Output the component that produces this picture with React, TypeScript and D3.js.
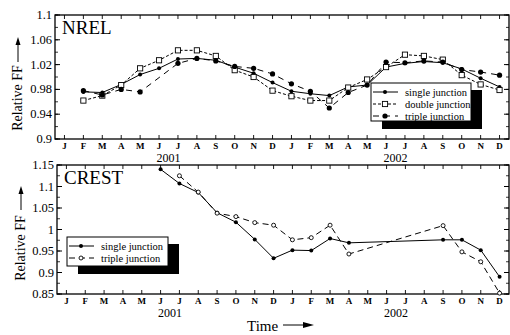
import * as d3 from 'd3';

const MONTHS = ['J', 'F', 'M', 'A', 'M', 'J', 'J', 'A', 'S', 'O', 'N', 'D', 'J', 'F', 'M', 'A', 'M', 'J', 'J', 'A', 'S', 'O', 'N', 'D'];
const YEARS = ['2001', '2002'];

// NREL, Jan 2001 .. Dec 2002 (null = no measurement)
const nrelSingle = [null, 0.976, 0.975, 0.988, 1.004, 1.014, 1.029, 1.030, 1.027, 1.016, 1.006, 0.991, 0.977, 0.973, 0.970, 0.984, 0.987, 1.016, 1.022, 1.025, 1.023, 1.013, 0.998, 0.984];
const nrelDouble = [null, 0.962, 0.970, 0.987, 1.014, 1.027, 1.043, 1.043, 1.034, 1.011, 1.000, 0.978, 0.969, 0.962, 0.962, 0.983, 0.996, 1.016, 1.036, 1.034, 1.028, 1.003, 0.988, 0.979];
const nrelTriple = [null, 0.978, 0.971, 0.980, 0.976, null, 1.022, 1.030, 1.026, 1.017, 1.014, 1.005, 0.989, 0.977, 0.950, 0.975, 0.987, 1.024, 1.023, 1.026, 1.024, 1.012, 1.008, 1.003];

// CREST
const crestSingle = [null, null, null, null, null, 1.140, 1.107, 1.086, 1.039, 1.017, 0.977, 0.933, 0.952, 0.951, 0.979, 0.969, null, null, null, null, 0.976, 0.976, 0.952, 0.890];
const crestTriple = [null, null, null, null, null, null, 1.125, 1.087, 1.038, 1.030, 1.016, 1.010, 0.976, 0.981, 1.010, 0.943, null, null, null, null, 1.009, 0.948, 0.925, 0.852];

const nrelTicks = [0.9, 0.94, 0.98, 1.02, 1.06, 1.1];
const crestTicks = [0.85, 0.9, 0.95, 1, 1.05, 1.1, 1.15];

const FONT = '"Liberation Serif", "Times New Roman", serif';

type Series = {
  name: string;
  values: (number | null)[];
  dash: string;
  marker: 'dot' | 'bigdot' | 'square' | 'circle';
};

function points(values: (number | null)[]) {
  return values.map((v, i) => [i, v] as [number, number | null]).filter(d => d[1] != null) as [number, number][];
}

function Marker({ kind, x, y }: { kind: string; x: number; y: number }) {
  if (kind === 'square') return <rect x={x - 2.6} y={y - 2.6} width={5.2} height={5.2} fill="#fff" stroke="#000" strokeWidth={0.9} />;
  if (kind === 'circle') return <circle cx={x} cy={y} r={2} fill="#fff" stroke="#000" strokeWidth={0.9} />;
  if (kind === 'bigdot') return <circle cx={x} cy={y} r={2.6} fill="#000" />;
  return <circle cx={x} cy={y} r={2} fill="#000" />;
}

function Panel(props: {
  label: string;
  left: number; right: number; top: number; bottom: number;
  domain: [number, number];
  ticks: number[];
  minorStep: number;
  series: Series[];
  legend: { x: number; y: number; w: number; h: number; rowH: number };
}) {
  const { left, right, top, bottom, domain, ticks, minorStep, series, legend } = props;
  const x = d3.scaleLinear().domain([-0.5, 23.5]).range([left, right]);
  const y = d3.scaleLinear().domain(domain).range([bottom, top]);
  const line = d3.line<[number, number]>().x(d => x(d[0])).y(d => y(d[1]));
  const minor = d3.range(domain[0], domain[1] + 1e-9, minorStep);

  return (
    <g>
      {/* frame */}
      <rect x={left} y={top} width={right - left} height={bottom - top} fill="none" stroke="#000" strokeWidth={1.3} />
      {/* y ticks */}
      {minor.map((v, i) => (
        <g key={'m' + i}>
          <line x1={left} x2={left + 3} y1={y(v)} y2={y(v)} stroke="#000" strokeWidth={0.8} />
          <line x1={right} x2={right - 3} y1={y(v)} y2={y(v)} stroke="#000" strokeWidth={0.8} />
        </g>
      ))}
      {ticks.map(v => (
        <g key={'t' + v}>
          <line x1={left} x2={left + 5} y1={y(v)} y2={y(v)} stroke="#000" strokeWidth={1} />
          <line x1={right} x2={right - 5} y1={y(v)} y2={y(v)} stroke="#000" strokeWidth={1} />
          <text x={left - 3} y={y(v) + 4} textAnchor="end" fontSize={12.5} fontFamily={FONT}>{String(+v.toFixed(2))}</text>
        </g>
      ))}
      {/* x ticks and month labels */}
      {MONTHS.map((m, i) => (
        <g key={'x' + i}>
          <line x1={x(i)} x2={x(i)} y1={bottom} y2={bottom - 4} stroke="#000" strokeWidth={0.9} />
          <line x1={x(i)} x2={x(i)} y1={top} y2={top + 4} stroke="#000" strokeWidth={0.9} />
          <text x={x(i)} y={bottom + 10} textAnchor="middle" fontSize={9} fontWeight="bold" fontFamily={FONT}>{m}</text>
        </g>
      ))}
      {YEARS.map((yr, k) => (
        <text key={yr} x={x(k * 12 + 5.5)} y={bottom + 23} textAnchor="middle" fontSize={12} fontFamily={FONT}>{yr}</text>
      ))}
      <text x={left + 7} y={top + 19} fontSize={19} fontFamily={FONT}>{props.label}</text>

      {/* series */}
      {series.map(s => (
        <g key={s.name}>
          <path d={line(points(s.values)) || ''} fill="none" stroke="#000" strokeWidth={1} strokeDasharray={s.dash} />
          {points(s.values).map(([i, v]) => <Marker key={i} kind={s.marker} x={x(i)} y={y(v)} />)}
        </g>
      ))}

      {/* legend */}
      <rect x={legend.x + 11} y={legend.y + 7} width={legend.w} height={legend.h + 1} fill="#000" />
      <rect x={legend.x} y={legend.y} width={legend.w} height={legend.h} fill="#fff" stroke="#000" strokeWidth={1} />
      {series.map((s, k) => {
        const ly = legend.y + legend.rowH * (k + 0.5) + 3;
        return (
          <g key={'l' + s.name}>
            <line x1={legend.x + 2} x2={legend.x + 27} y1={ly} y2={ly} stroke="#000" strokeWidth={1} strokeDasharray={s.dash} />
            <Marker kind={s.marker} x={legend.x + 14} y={ly} />
            <text x={legend.x + 34} y={ly + 3.5} fontSize={10.5} fontFamily={FONT}>{s.name}</text>
          </g>
        );
      })}
    </g>
  );
}

function YLabel({ cx, cy, arrowTop, arrowBottom }: { cx: number; cy: number; arrowTop: number; arrowBottom: number }) {
  return (
    <g>
      <text transform={`translate(${cx},${cy}) rotate(-90)`} textAnchor="middle" fontSize={14} fontFamily={FONT}>Relative FF</text>
      <line x1={cx - 4} x2={cx - 4} y1={arrowBottom} y2={arrowTop + 6} stroke="#000" strokeWidth={1} />
      <polygon points={`${cx - 4},${arrowTop} ${cx - 6.5},${arrowTop + 8} ${cx - 1.5},${arrowTop + 8}`} fill="#000" />
    </g>
  );
}

export default function App() {
  return (
    <svg width={510} height={335} style={{ position: 'absolute', left: 0, top: 0, background: '#fff' }}>
      <rect width={510} height={335} fill="#fff" />
      <Panel
        label="NREL"
        left={55} right={509} top={15} bottom={139}
        domain={[0.9, 1.1]}
        ticks={nrelTicks}
        minorStep={0.02}
        series={[
          { name: 'single junction', values: nrelSingle, dash: '', marker: 'dot' },
          { name: 'double junction', values: nrelDouble, dash: '3,2', marker: 'square' },
          { name: 'triple junction', values: nrelTriple, dash: '6,5', marker: 'bigdot' },
        ]}
        legend={{ x: 371, y: 83, w: 100, h: 38, rowH: 12 }}
      />
      <Panel
        label="CREST"
        left={57} right={509} top={165} bottom={294}
        domain={[0.85, 1.15]}
        ticks={crestTicks}
        minorStep={0.025}
        series={[
          { name: 'single junction', values: crestSingle, dash: '', marker: 'dot' },
          { name: 'triple junction', values: crestTriple, dash: '6,4', marker: 'circle' },
        ]}
        legend={{ x: 67, y: 237, w: 101, h: 29, rowH: 12 }}
      />
      <YLabel cx={22} cy={98} arrowTop={37} arrowBottom={62} />
      <YLabel cx={25} cy={248} arrowTop={186} arrowBottom={210} />
      <text x={247} y={331} fontSize={15} fontFamily={FONT}>Time</text>
      <line x1={283} x2={306} y1={325} y2={325} stroke="#000" strokeWidth={1} />
      <polygon points="314,325 303,322 303,328" fill="#000" />
    </svg>
  );
}
